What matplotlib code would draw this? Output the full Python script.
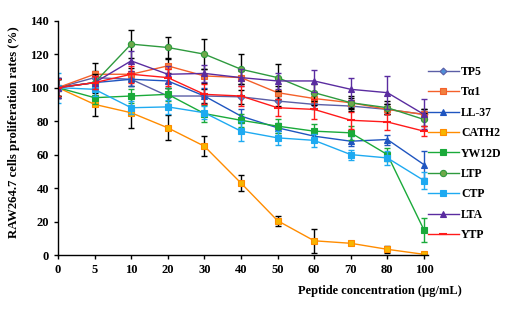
import matplotlib.pyplot as plt

plt.rcParams['font.family'] = ['Liberation Serif', 'DejaVu Serif']
plt.rcParams['font.weight'] = 'bold'

conc_labels = ['0', '5', '10', '20', '30', '40', '50', '60', '70', '80', '100']

tp5 = [100, 106, 105, 95, 95, 94.5, 92, 90, 89, 87, 84]
ta1 = [100, 108, 108, 113, 107, 106, 97, 93.5, 91, 87, 84]
ll37 = [100, 103, 105, 104, 95, 83, 76, 71, 68, 69, 54]
cath2 = [100, 90, 85, 76, 65, 43, 20.5, 8.5, 7, 3.4, 0.4]
yw12d = [100, 94, 95, 96, 84.5, 80.5, 77, 74, 73, 60, 15]
ltp = [100, 103, 126, 124, 120, 111, 106, 97, 91, 88, 81]
ctp = [100, 99, 88, 88.5, 85, 74, 70, 68.5, 60, 58, 44.5]
lta = [100, 103, 116, 108, 108.5, 106, 104, 104, 99, 97, 84]
ytp = [100, 103, 108, 106, 96, 95, 88, 87, 80.5, 79.5, 74]

tp5_err = [6, 4, 4, 5, 4, 4, 3, 3, 3, 3, 3]
ta1_err = [5, 7, 4, 4, 4, 4, 4, 4, 3, 3, 3]
ll37_err = [6, 4, 4, 4, 5, 4, 3, 3, 3, 3, 8]
cath2_err = [5, 7, 9, 7.5, 6, 5, 3, 7, 1, 2, 0.5]
yw12d_err = [5, 4, 4, 4, 5, 4, 4, 4, 4, 4, 7]
ltp_err = [5, 5, 8.5, 6, 9, 9, 8, 5, 4, 4, 4]
ctp_err = [9, 4, 4, 4, 4, 6, 4, 4, 3, 4, 5]
lta_err = [6, 4, 6, 5, 5, 5, 5, 6.5, 6.5, 10, 9]
ytp_err = [5, 4, 5, 5, 6, 6, 5, 6, 5, 5, 3]

series = [
    ('TP5', tp5, tp5_err, '#5B5EA6', 'D', '#4F8FD8', 'black'),
    ('T\u03b11', ta1, ta1_err, '#F4602A', 's', '#F08040', 'black'),
    ('LL-37', ll37, ll37_err, '#1F55C0', '^', '#1F55C0', '#1F55C0'),
    ('CATH2', cath2, cath2_err, '#FF8C00', 's', '#F7B500', 'black'),
    ('YW12D', yw12d, yw12d_err, '#1AAA3A', 's', '#1AAA3A', '#1AAA3A'),
    ('LTP', ltp, ltp_err, '#2E9A3E', 'o', '#6FA84A', 'black'),
    ('CTP', ctp, ctp_err, '#1EAAF1', 's', '#1EAAF1', '#1EAAF1'),
    ('LTA', lta, lta_err, '#5A2CA0', '^', '#5A2CA0', '#5A2CA0'),
    ('YTP', ytp, ytp_err, '#FF1A1A', '_', '#FF1A1A', '#FF1A1A'),
]

fig = plt.figure(figsize=(5.1, 3.16), dpi=100)
ax = fig.add_axes([0.1137, 0.193, 0.7255, 0.7415])

xpos = list(range(len(conc_labels)))
for name, vals, err, col, mk, mfc, ecol in series:
    ax.errorbar(xpos, vals, yerr=err, fmt='none', ecolor=ecol, elinewidth=1.0,
                capsize=2.5, capthick=1.0)
    ms = 4.5 if mk != 'D' else 3.5
    if mk == '_':
        ms = 6
    ax.plot(xpos, vals, color=col, marker=mk, markersize=ms, markerfacecolor=mfc,
            markeredgecolor=col, markeredgewidth=0.8 if mk != '_' else 1.5,
            linewidth=1.0, label=name)

ax.set_xlim(0, 10.11)
ax.set_ylim(0, 140)
ax.set_xticks(xpos)
ax.set_xticklabels(conc_labels)
ax.set_yticks(range(0, 141, 20))
ax.spines['top'].set_visible(False)
ax.spines['right'].set_visible(False)
ax.spines['left'].set_linewidth(1.0)
ax.spines['bottom'].set_linewidth(1.0)
ax.tick_params(axis='both', direction='out', length=3, width=1.0, labelsize=9)
for lbl in ax.get_xticklabels() + ax.get_yticklabels():
    lbl.set_fontweight('bold')

ax.set_xlabel('Peptide concentration (\u03bcg/mL)', fontsize=9, fontweight='bold')
ax.xaxis.set_label_coords((380 - 58) / 370, -0.13)
ax.set_ylabel('RAW264.7 cells proliferation rates (%)', fontsize=9.2, fontweight='bold')
ax.yaxis.set_label_coords(-0.103, 0.525)

fig.legend(loc='upper left', bbox_to_anchor=(428 / 510, (316 - 66) / 316),
           frameon=False, handlelength=2.6, handletextpad=0.2,
           labelspacing=0.71, borderaxespad=0, borderpad=0,
           prop={'weight': 'bold', 'size': 8.5})

fig.savefig('out.png', dpi=100)
